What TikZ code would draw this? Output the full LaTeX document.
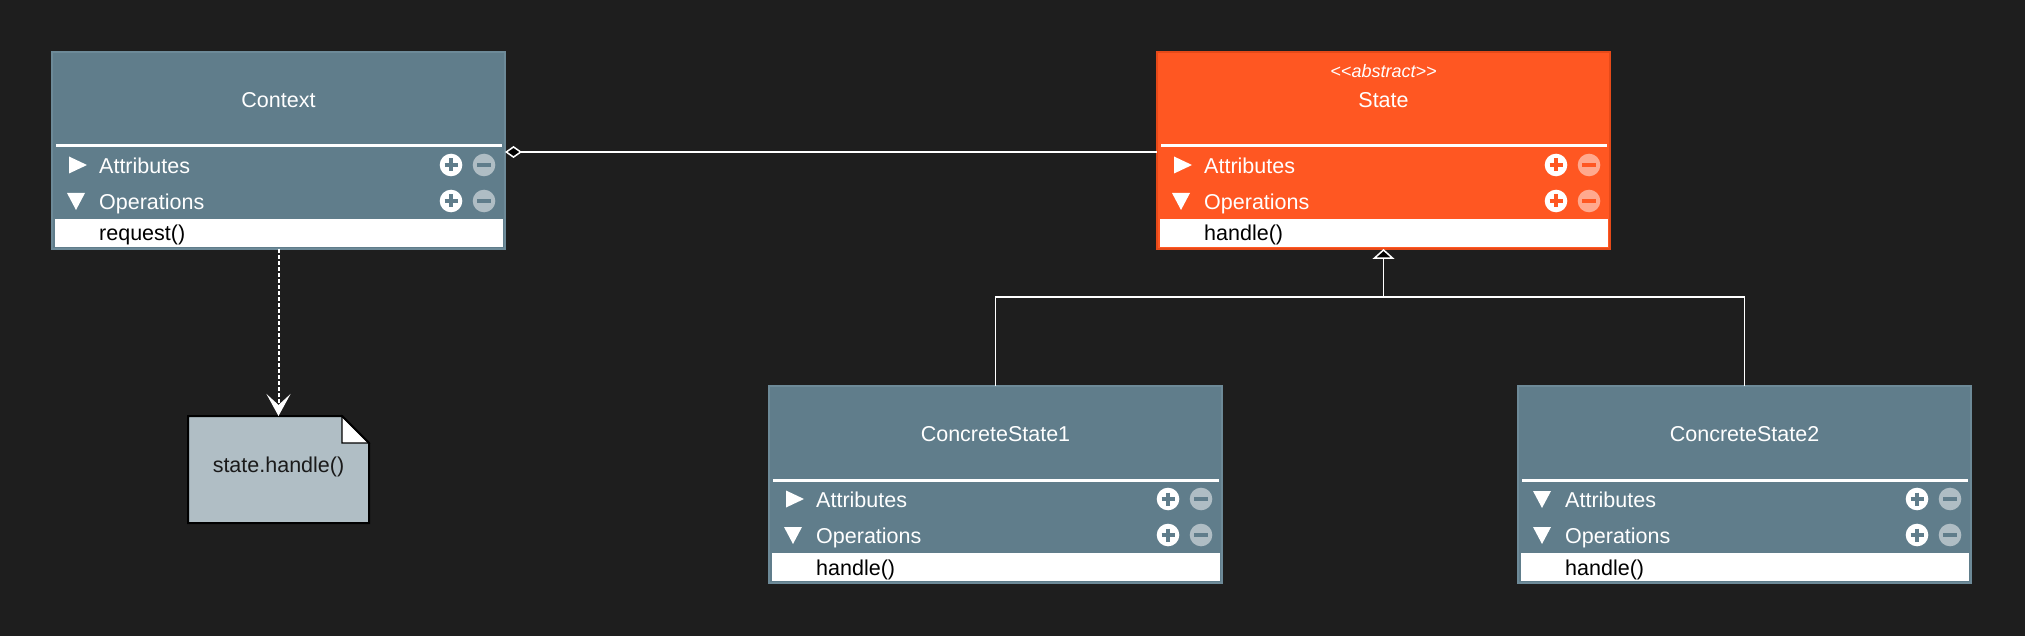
\documentclass[tikz,border=0pt]{standalone}
\usepackage{fontspec}
\setmainfont{Liberation Sans}
\usetikzlibrary{calc,arrows.meta}
\definecolor{bg}{HTML}{1E1E1E}
\definecolor{slate}{HTML}{607D8B}
\definecolor{slateedge}{HTML}{6D8A98}
\definecolor{slateminus}{HTML}{AFBDC4}
\definecolor{orangefill}{HTML}{FF5722}
\definecolor{orangeedge}{HTML}{E64A19}
\definecolor{orangeminus}{HTML}{FFA98E}
\definecolor{notefill}{HTML}{B0BEC5}
\definecolor{notetextcol}{HTML}{1A1A1A}
\tikzset{
  classbox/.style={rectangle, minimum width=453pt, minimum height=197pt, inner sep=0pt, outer sep=0pt, line width=1.5pt, anchor=north west},
  titletext/.style={text=white, font=\fontsize{21.5}{24}\selectfont, inner sep=0pt, anchor=base},
  stereotext/.style={text=white, font=\fontsize{18}{20}\selectfont\itshape, inner sep=0pt, anchor=base},
  rowtext/.style={text=white, font=\fontsize{21.5}{24}\selectfont, inner sep=0pt, anchor=base west},
  optext/.style={text=black, font=\fontsize{21.5}{24}\selectfont, inner sep=0pt, anchor=base west},
  sepline/.style={white, line width=3pt},
  wire/.style={white, line width=1.5pt},
  iconbar/.style={line width=4pt},
  noteshape/.style={rectangle, minimum width=181pt, minimum height=107pt, inner sep=0pt, outer sep=0pt},
  notetext/.style={text=notetextcol, font=\fontsize{21.5}{24}\selectfont, inner sep=0pt, anchor=base},
}
% triangles in the compartment rows
\newcommand{\umlright}[2]{%
  \fill[white] ($(#1.north west)+(17,{#2-8.5})$) -- ($(#1.north west)+(17,{#2+8.5})$) -- ($(#1.north west)+(35,#2)$) -- cycle;}
\newcommand{\umldown}[2]{%
  \fill[white] ($(#1.north west)+(15,{#2-8})$) -- ($(#1.north west)+(33,{#2-8})$) -- ($(#1.north west)+(24,{#2+9})$) -- cycle;}
% plus / minus buttons
\newcommand{\umlicons}[4]{%
  \fill[white] ($(#1.north west)+(399,#2)$) circle[radius=11.3pt];
  \draw[#3, iconbar] ($(#1.north west)+(392.5,#2)$) -- ($(#1.north west)+(405.5,#2)$);
  \draw[#3, iconbar] ($(#1.north west)+(399,{#2-6.5})$) -- ($(#1.north west)+(399,{#2+6.5})$);
  \fill[#4] ($(#1.north west)+(432,#2)$) circle[radius=11.3pt];
  \draw[#3, iconbar] ($(#1.north west)+(425,#2)$) -- ($(#1.north west)+(439,#2)$);}
% class box: name, x, y, fill, edge, minus colour, attr triangle macro, title, operation
\newcommand{\umlbox}[9]{%
  \node[classbox, fill=#4, draw=#5] (#1) at (#2,#3) {};
  \node[titletext] (#1-title) at ($(#1.north west)+(226.5,55.5)$) {#8};
  \draw[sepline] ($(#1.north west)+(4,94)$) -- ($(#1.north east)+(-3,94)$);
  \node[rowtext] (#1-attr) at ($(#1.north west)+(47,121.5)$) {Attributes};
  \node[rowtext] (#1-ops) at ($(#1.north west)+(47,157.5)$) {Operations};
  #7{#1}{113}
  \umldown{#1}{149}
  \umlicons{#1}{113}{#4}{#6}
  \umlicons{#1}{149}{#4}{#6}
  \fill[white] ($(#1.north west)+(3,167)$) rectangle ($(#1.north east)+(-2,195)$);
  \node[optext] (#1-op) at ($(#1.north west)+(47,189)$) {#9};}
\begin{document}
\begin{tikzpicture}[x=1pt,y=-1pt]
  \path[use as bounding box, fill=bg] (0,0) rectangle (2025,636);

  \umlbox{ctx}{52}{52}{slate}{slateedge}{slateminus}{\umlright}{Context}{request()}
  \umlbox{state}{1157}{52}{orangefill}{orangeedge}{orangeminus}{\umlright}{State}{handle()}
  \node[stereotext] (state-stereo) at ($(state.north west)+(226.5,26)$) {{<}{<}abstract{>}{>}};
  \umlbox{cs1}{769}{386}{slate}{slateedge}{slateminus}{\umlright}{ConcreteState1}{handle()}
  \umlbox{cs2}{1518}{386}{slate}{slateedge}{slateminus}{\umldown}{ConcreteState2}{handle()}

  % note
  \node[noteshape] (note) at (278.5,469.5) {};
  \filldraw[fill=notefill, draw=black, line width=2pt, line join=miter]
    (note.north west) -- ($(note.north east)+(-27,0)$) -- ($(note.north east)+(0,27)$)
    -- (note.south east) -- (note.south west) -- cycle;
  \filldraw[fill=white, draw=black, line width=1.2pt, line join=miter]
    ($(note.north east)+(-27,0)$) -- ($(note.north east)+(-27,27)$) -- ($(note.north east)+(0,27)$) -- cycle;
  \draw[black, line width=2pt] ($(note.north east)+(-27,0)$) -- ($(note.north east)+(0,27)$);
  \node[notetext] (note-text) at ($(note.center)+(0,3)$) {state.handle()};

  % dependency from Context to the note
  \draw[wire, line width=2pt, dash pattern=on 4pt off 2pt, -{Stealth[length=22pt, width=24pt, inset=11pt, fill=white, line width=1pt]}]
    (ctx.south) -- (note.north);

  % aggregation Context <>---- State
  \draw[wire, {Diamond[length=17pt, width=12pt, fill=black, line width=1.5pt]}-]
    ($(ctx.north east)+(0,100)$) -- ($(state.north west)+(0,100)$);

  % generalisation
  \coordinate (joint) at ($(state.south)+(0,48)$);
  \draw[wire, line join=miter, -{Triangle[length=10pt, width=22pt, fill=black, line width=1.5pt]}]
    (cs1.north) |- (joint) -- (state.south);
  \draw[wire, line join=miter] (cs2.north) |- (joint);
\end{tikzpicture}
\end{document}
